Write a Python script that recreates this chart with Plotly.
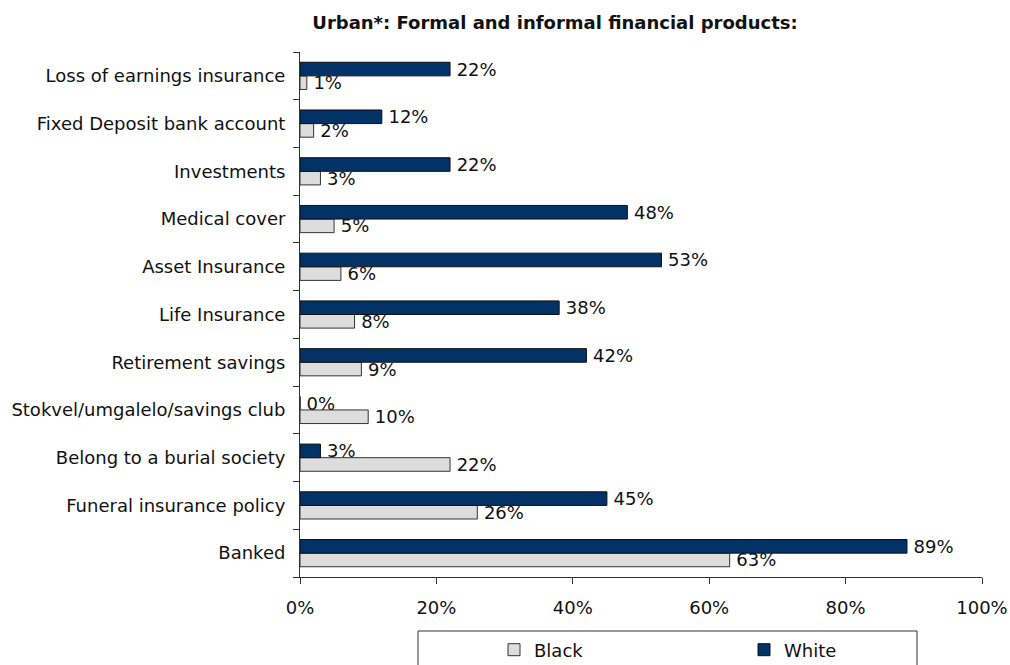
import plotly.graph_objects as go

categories = [
    "Banked",
    "Funeral insurance policy",
    "Belong to a burial society",
    "Stokvel/umgalelo/savings club",
    "Retirement savings",
    "Life Insurance",
    "Asset Insurance",
    "Medical cover",
    "Investments",
    "Fixed Deposit bank account",
    "Loss of earnings insurance",
]
black_pct = [63, 26, 22, 10, 9, 8, 6, 5, 3, 2, 1]
white_pct = [89, 45, 3, 0, 42, 38, 53, 48, 22, 12, 22]
x_ticks = [0, 20, 40, 60, 80, 100]

FONT = "DejaVu Sans"
FS = 18
W, H = 1010, 665
ML, MR, MT, MB = 300, 28, 52, 88

def pct_labels(values):
    # thin space keeps the value labels a little clear of the bar ends
    return [f"\u2009{v}%" for v in values]

fig = go.Figure()
fig.add_trace(go.Bar(
    name="Black", y=categories, x=black_pct, orientation="h",
    marker=dict(color="#dddddd", line=dict(color="#333333", width=1)),
    text=pct_labels(black_pct), textposition="outside",
    constraintext="none", cliponaxis=False,
    textfont=dict(family=FONT, size=FS, color="#111111"),
))
fig.add_trace(go.Bar(
    name="White", y=categories, x=white_pct, orientation="h",
    marker=dict(color="#033266", line=dict(color="#111111", width=1)),
    text=pct_labels(white_pct), textposition="outside",
    constraintext="none", cliponaxis=False,
    textfont=dict(family=FONT, size=FS, color="#111111"),
))

pw = W - ML - MR
ph = H - MT - MB

def px_x(px):
    return (px - ML) / pw

def px_y(py):
    return (H - MB - py) / ph

# legend frame
fig.add_shape(type="rect", xref="paper", yref="paper",
              x0=px_x(418), x1=px_x(917), y0=px_y(680), y1=px_y(631),
              line=dict(color="#333333", width=1), fillcolor="white")

fig.update_layout(
    width=W, height=H,
    margin=dict(l=ML, r=MR, t=MT, b=MB, autoexpand=False),
    paper_bgcolor="white", plot_bgcolor="white",
    barmode="group", bargap=0.43, bargroupgap=0,
    font=dict(family=FONT, size=FS, color="#111111"),
    title=dict(text="<b>Urban*: Formal and informal financial products:</b>",
               x=555 / W, xanchor="center",
               y=1 - 23 / H, yanchor="middle",
               font=dict(family=FONT, size=18, color="#111111")),
    xaxis=dict(range=[0, 100], tickvals=x_ticks,
               ticktext=[f"{v}%" for v in x_ticks],
               showgrid=False, zeroline=False, showline=True,
               linecolor="#333333", linewidth=1,
               ticks="outside", ticklen=6, tickcolor="#333333",
               ticklabelstandoff=8),
    yaxis=dict(showgrid=False, showline=True, linecolor="#333333",
               linewidth=1, ticks="outside", ticklen=6, tickcolor="#333333",
               tickson="boundaries", ticklabelstandoff=10),
    legend=dict(orientation="h", xref="container", yref="container",
                x=494 / W, xanchor="left",
                y=1 - 650 / H, yanchor="middle", entrywidth=205,
                bgcolor="rgba(0,0,0,0)", font=dict(family=FONT, size=FS),
                traceorder="normal"),
    showlegend=True,
)

fig.write_html("out.html")
